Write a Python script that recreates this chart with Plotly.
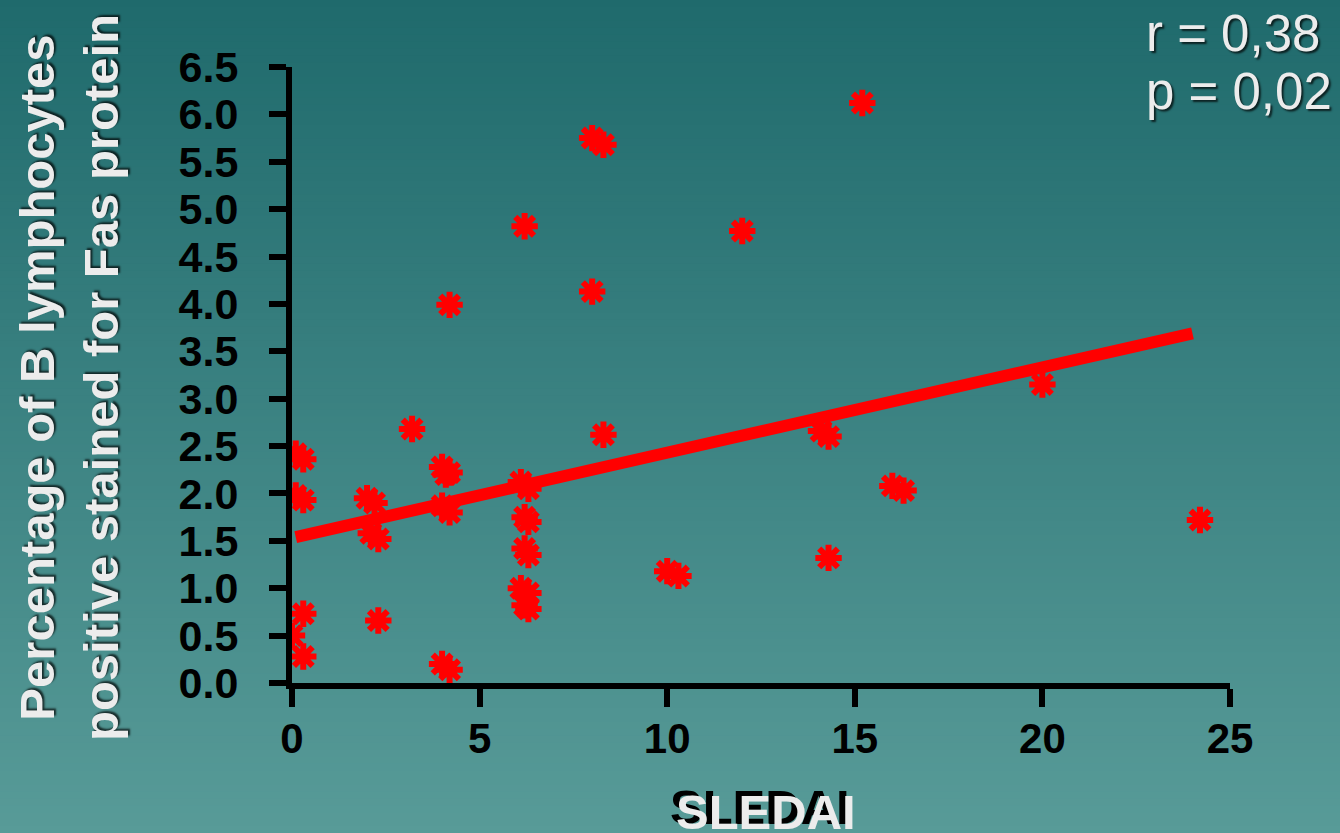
import plotly.graph_objects as go

# ---- data ----
sledai = [0.1, 0.3, 0.1, 0.3, 0.3, 0.0, 0.3,
          2.0, 2.2, 2.1, 2.3, 2.3,
          3.2,
          4.0, 4.2, 4.1, 4.0, 4.2, 4.0, 4.2, 4.2,
          6.1, 6.3, 6.2, 6.3, 6.2, 6.3, 6.1, 6.3, 6.2, 6.3, 6.2,
          8.0, 8.3, 8.0, 8.3,
          10.0, 10.3,
          12.0,
          14.1, 14.3, 14.3,
          15.2,
          16.0, 16.3,
          20.0,
          24.2]
fas_pct = [2.42, 2.36, 1.98, 1.93, 0.73, 0.50, 0.28,
           1.95, 1.90, 1.58, 1.52, 0.66,
           2.68,
           2.28, 2.22, 2.20, 1.87, 1.80, 0.20, 0.14, 3.99,
           2.12, 2.05, 1.75, 1.70, 1.42, 1.35, 1.00, 0.95, 0.82, 0.78, 4.82,
           5.75, 5.68, 4.13, 2.62,
           1.18, 1.13,
           4.77,
           2.66, 2.60, 1.32,
           6.12,
           2.08, 2.03,
           3.15,
           1.72]

fit_x = [0.1, 24.0]
fit_y = [1.54, 3.69]

x_ticks = [0, 5, 10, 15, 20, 25]
y_ticks = [0.0, 0.5, 1.0, 1.5, 2.0, 2.5, 3.0, 3.5, 4.0, 4.5, 5.0, 5.5, 6.0, 6.5]

stat_lines = ["r = 0,38", "p = 0,02"]
x_title = "SLEDAI"
y_title = "Percentage of B lymphocytes<br>positive stained for Fas protein"

# ---- layout geometry (pixels) ----
W, H = 1340, 833
L, R, T, B = 292, 110, 67, 150
PW, PH = W - L - R, H - T - B


def px_x(p):
    return (p - L) / PW


def px_y(p):
    return (H - B - p) / PH


FONT = "Arial, Liberation Sans, sans-serif"

fig = go.Figure()

fig.add_trace(go.Scatter(
    x=fit_x, y=fit_y, mode="lines",
    line=dict(color="#ff0000", width=12),
    hoverinfo="skip", showlegend=False,
))
fig.add_trace(go.Scatter(
    x=sledai, y=fas_pct, mode="markers",
    marker=dict(symbol="asterisk", size=22, color="#ff0000",
                line=dict(color="#ff0000", width=6)),
    showlegend=False,
))

# vertical gradient background built from thin strips
top_c = (31, 106, 108)
bot_c = (88, 155, 152)
n_strips = 120
shapes = []
for i in range(n_strips):
    y0 = H * i / n_strips
    y1 = H * (i + 1) / n_strips + 1
    t = (i + 0.5) / n_strips
    c = tuple(round(top_c[k] + (bot_c[k] - top_c[k]) * t) for k in range(3))
    shapes.append(dict(type="rect", xref="paper", yref="paper", layer="below",
                       x0=px_x(-2), x1=px_x(W + 2), y0=px_y(y0), y1=px_y(y1),
                       fillcolor="rgb(%d,%d,%d)" % c, line=dict(width=0)))

annotations = [
    dict(text=y_title, textangle=-90, xref="paper", yref="paper",
         x=px_x(69), y=px_y(378), xanchor="center", yanchor="middle",
         showarrow=False, align="center",
         font=dict(family=FONT, size=49, color="#ececec", weight="bold",
                   shadow="2px 2px 2px rgba(0,0,0,0.7)")),
    dict(text="<b>" + x_title + "</b>", xref="paper", yref="paper",
         x=px_x(766), y=px_y(812), xanchor="center", yanchor="middle",
         showarrow=False,
         font=dict(family=FONT, size=49, color="#ececec",
                   shadow="-6px -5px 0px #000000")),
    dict(text=stat_lines[0], xref="paper", yref="paper",
         x=px_x(1144), y=px_y(34), xanchor="left", yanchor="middle",
         showarrow=False,
         font=dict(family=FONT, size=51, color="#ececec",
                   shadow="2px 2px 2px rgba(0,0,0,0.7)")),
    dict(text=stat_lines[1], xref="paper", yref="paper",
         x=px_x(1144), y=px_y(91), xanchor="left", yanchor="middle",
         showarrow=False,
         font=dict(family=FONT, size=51, color="#ececec",
                   shadow="2px 2px 2px rgba(0,0,0,0.7)")),
]

fig.update_layout(
    width=W, height=H,
    margin=dict(l=L, r=R, t=T, b=B, pad=0),
    paper_bgcolor="rgb(60,130,130)",
    plot_bgcolor="rgba(0,0,0,0)",
    shapes=shapes,
    annotations=annotations,
    font=dict(family=FONT),
)
fig.update_xaxes(
    range=[0, 25], tickvals=x_ticks, ticktext=[str(v) for v in x_ticks],
    showline=True, linecolor="#000000", linewidth=6,
    ticks="outside", ticklen=18, tickwidth=6, tickcolor="#000000",
    tickfont=dict(family=FONT, size=42, color="#000000", weight="bold"),
    showgrid=False, zeroline=False, ticklabelstandoff=-4,
)
fig.update_yaxes(
    range=[0, 6.5], tickvals=y_ticks, ticktext=["%.1f" % v for v in y_ticks],
    showline=True, linecolor="#000000", linewidth=6,
    ticks="outside", ticklen=17, tickwidth=6, tickcolor="#000000",
    tickfont=dict(family=FONT, size=43, color="#000000", weight="bold"),
    showgrid=False, zeroline=False, ticklabelstandoff=22,
)

fig.write_html("out.html", config={"displayModeBar": False},
               post_script="document.body.style.margin='0';")
